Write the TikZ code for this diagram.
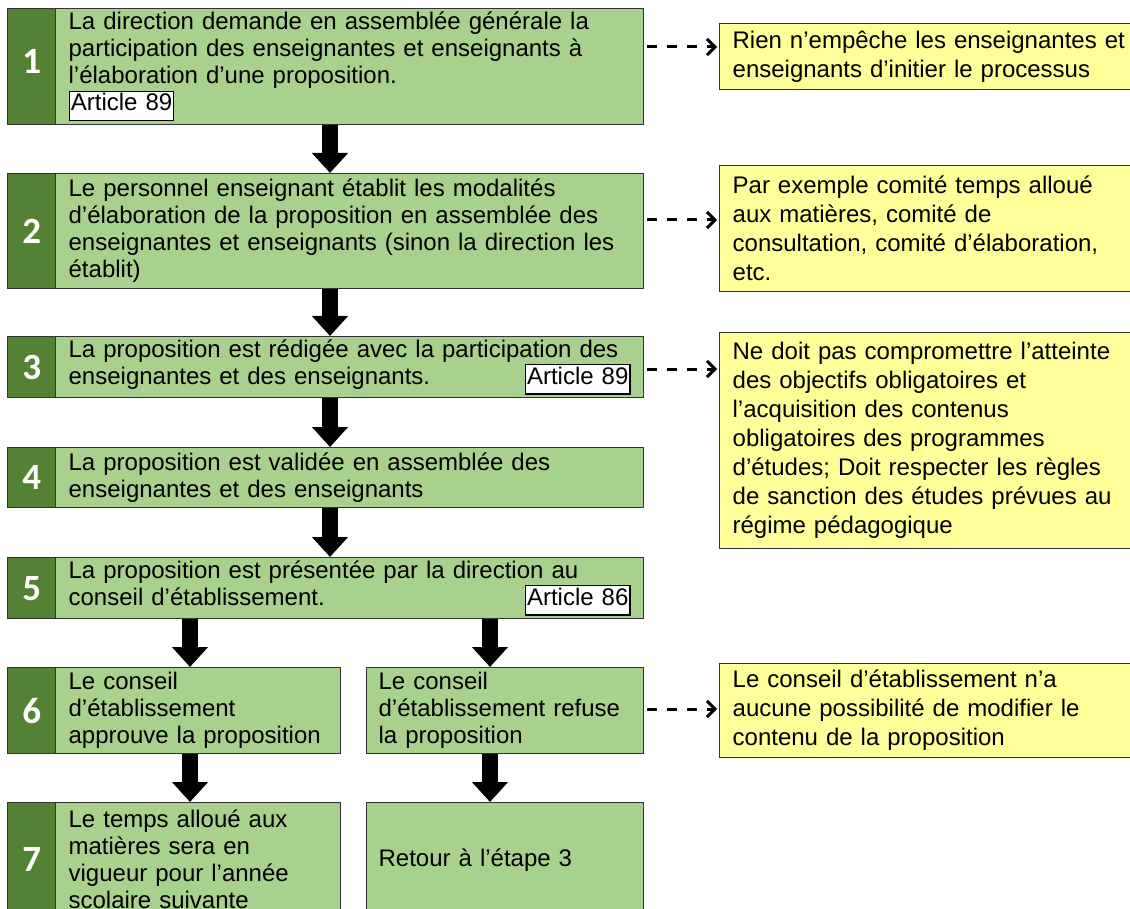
\documentclass[tikz,border=0pt]{standalone}
\usepackage{fontspec}
\setmainfont{Liberation Sans}
\newfontfamily\numfont{Carlito}
\usetikzlibrary{arrows.meta}
\definecolor{dkgreen}{HTML}{548235}
\definecolor{ltgreen}{HTML}{A9D18E}
\definecolor{ltyellow}{HTML}{FFFF99}
\newcommand\art[1]{{\setlength\fboxsep{1pt}\setlength\fboxrule{1.2pt}\fcolorbox{black}{white}{\rule[-8pt]{0pt}{26pt}#1}}}
\newcommand\artright[1]{\hskip 0pt plus 1filll\art{#1}\hspace*{10pt}}
\tikzset{
  gtext/.style={draw=black!80, line width=1.3pt, fill=ltgreen, anchor=north west, align=left,
    text width=#1, inner xsep=13pt, inner ysep=2pt, font=\fontsize{24}{27}\selectfont},
  numcell/.style={draw=black!80, line width=1.3pt, fill=dkgreen, anchor=north west,
    minimum width=48pt, text=white, font=\numfont\bfseries\fontsize{37}{37}\selectfont, inner sep=0pt},
  ybox/.style={draw=black!80, line width=1.3pt, fill=ltyellow, anchor=north west, align=left,
    text width=420pt, inner xsep=13pt, inner ysep=2pt, font=\fontsize{24}{29}\selectfont},
  blockarrow/.style={line width=16pt, -{Triangle[width=35pt,length=20pt]}},
  dasharrow/.style={line width=3pt, black, dash pattern=on 10pt off 10pt,
    -{Straight Barb[length=8pt,width=16pt]}},
}
\begin{document}
\begin{tikzpicture}[x=1pt,y=-1pt]
\fill[white] (0,0) rectangle (1130,909);
\begin{scope}
\clip (0,0) rectangle (1130,909);
% step 1
\node[numcell, minimum height=116pt] (n1) at (7,8) {\raisebox{11pt}{1}};
\node[gtext=562pt, minimum height=116pt] (s1) at (55,8)
  {La direction demande en assemblée générale la\\
   participation des enseignantes et enseignants à\\
   l’élaboration d’une proposition.\\
   \art{Article 89}};
% step 2
\node[numcell, minimum height=115pt] (n2) at (7,173) {2};
\node[gtext=562pt, minimum height=115pt] (s2) at (55,173)
  {Le personnel enseignant établit les modalités\\
   d’élaboration de la proposition en assemblée des\\
   enseignantes et enseignants (sinon la direction les\\
   établit)};
% step 3
\node[numcell, minimum height=61pt] (n3) at (7,336) {3};
\node[gtext=562pt, minimum height=61pt] (s3) at (55,336)
  {La proposition est rédigée avec la participation des\\
   enseignantes et des enseignants.\artright{Article 89}};
% step 4
\node[numcell, minimum height=60pt] (n4) at (7,447) {4};
\node[gtext=562pt, minimum height=60pt] (s4) at (55,447)
  {La proposition est validée en assemblée des\\
   enseignantes et des enseignants};
% step 5
\node[numcell, minimum height=61pt] (n5) at (7,557) {5};
\node[gtext=562pt, minimum height=61pt] (s5) at (55,557)
  {La proposition est présentée par la direction au\\
   conseil d’établissement.\artright{Article 86}};
% step 6
\node[numcell, minimum height=86pt] (n6) at (7,667) {6};
\node[gtext=259pt, minimum height=86pt] (s6) at (55,667)
  {Le conseil\\ d’établissement\\ approuve la proposition};
\node[gtext=253pt, inner xsep=12pt, minimum height=86pt] (s6b) at (366,667)
  {Le conseil\\ d’établissement refuse\\ la proposition};
% step 7
\node[numcell, minimum height=114pt] (n7) at (7,802) {7};
\node[gtext=259pt, minimum height=114pt] (s7) at (55,802)
  {Le temps alloué aux\\ matières sera en\\ vigueur pour l’année\\ scolaire suivante};
\node[gtext=253pt, inner xsep=12pt, minimum height=114pt] (s7b) at (366,802)
  {Retour à l’étape 3};
% notes
\node[ybox, minimum height=66pt] (y1) at (719,23)
  {Rien n’empêche les enseignantes et\\ enseignants d’initier le processus};
\node[ybox, minimum height=126pt] (y2) at (719,165)
  {Par exemple comité temps alloué\\ aux matières, comité de\\ consultation, comité d’élaboration,\\ etc.};
\node[ybox, minimum height=216pt] (y3) at (719,332)
  {Ne doit pas compromettre l’atteinte\\ des objectifs obligatoires et\\ l’acquisition des contenus\\ obligatoires des programmes\\ d’études; Doit respecter les règles\\ de sanction des études prévues au\\ régime pédagogique};
\node[ybox, minimum height=94pt] (y4) at (719,663)
  {Le conseil d’établissement n’a\\ aucune possibilité de modifier le\\ contenu de la proposition};
% block arrows
\draw[blockarrow] (s1.south -| 330,0) -- (s2.north -| 330,0);
\draw[blockarrow] (s2.south -| 330,0) -- (s3.north -| 330,0);
\draw[blockarrow] (s3.south -| 330,0) -- (s4.north -| 330,0);
\draw[blockarrow] (s4.south -| 330,0) -- (s5.north -| 330,0);
\draw[blockarrow] (s5.south -| 190,0) -- (s6.north -| 190,0);
\draw[blockarrow] (s5.south -| 490,0) -- (s6b.north -| 490,0);
\draw[blockarrow] (s6.south -| 190,0) -- (s7.north -| 190,0);
\draw[blockarrow] (s6b.south -| 490,0) -- (s7b.north -| 490,0);
% dashed arrows
\draw[dasharrow] ([xshift=3pt]s1.east |- 0,47) -- ([xshift=-2pt]y1.west |- 0,47);
\draw[dasharrow] ([xshift=3pt]s2.east |- 0,220) -- ([xshift=-2pt]y2.west |- 0,220);
\draw[dasharrow] ([xshift=3pt]s3.east |- 0,369) -- ([xshift=-2pt]y3.west |- 0,369);
\draw[dasharrow] ([xshift=3pt]s6b.east |- 0,709) -- ([xshift=-2pt]y4.west |- 0,709);
\end{scope}
\pgfresetboundingbox
\useasboundingbox (0,0) rectangle (1130,909);
\end{tikzpicture}
\end{document}
